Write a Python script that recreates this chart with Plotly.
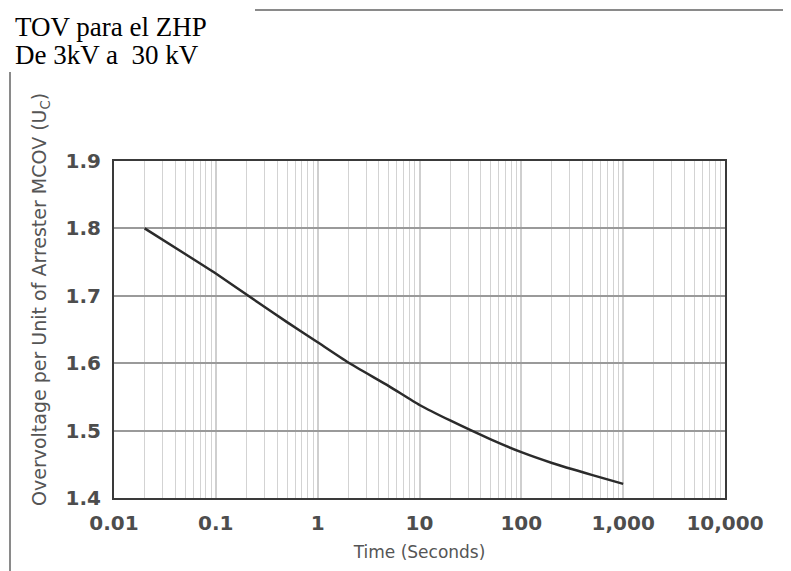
import plotly.graph_objects as go

# Data
time_s = [0.02, 0.05, 0.1, 0.26, 0.5, 1, 2, 5, 10, 20, 50, 100, 200, 500, 1000]
overvoltage_pu = [1.800, 1.762, 1.733, 1.690, 1.661, 1.631, 1.601, 1.566, 1.538,
                  1.515, 1.487, 1.468, 1.452, 1.434, 1.421]

x_tick_vals = [0.01, 0.1, 1, 10, 100, 1000, 10000]
x_tick_text = ["0.01", "0.1", "1", "10", "100", "1,000", "10,000"]
y_tick_vals = [1.4, 1.5, 1.6, 1.7, 1.8, 1.9]

title_lines = ["TOV para el ZHP", "De 3kV a  30 kV"]
x_title = "Time (Seconds)"
y_title = "Overvoltage per Unit of Arrester MCOV (U<sub>C</sub>)"

W, H = 791, 571
L, R, T, B = 106, 74, 153, 81
pw, ph = W - L - R, H - T - B


def px_x(p):
    return (p - L) / pw


def px_y(p):
    return (H - B - p) / ph


fig = go.Figure()
fig.add_trace(go.Scatter(
    x=time_s, y=overvoltage_pu, mode="lines",
    line=dict(color="#2b2b2b", width=2.5, shape="spline", smoothing=0.5),
    showlegend=False, hoverinfo="skip",
))

tick_font = dict(family="DejaVu Sans", size=20, color="#4d4d4d", weight="bold")

fig.update_layout(
    width=W, height=H,
    margin=dict(l=L, r=R, t=T, b=B),
    paper_bgcolor="white", plot_bgcolor="white",
    xaxis=dict(
        type="log", range=[-2, 4],
        tickvals=x_tick_vals, ticktext=x_tick_text,
        showgrid=True, gridcolor="#cfcfcf", gridwidth=1.5,
        minor=dict(dtick="D1", showgrid=True, gridcolor="#d3d3d3", gridwidth=1.3),
        showline=True, linecolor="#3a3a3a", linewidth=2, mirror=True,
        ticks="", tickfont=tick_font, ticklabelstandoff=6,
        title=dict(text=x_title, font=dict(family="DejaVu Sans", size=17, color="#555555"), standoff=12),
        zeroline=False,
    ),
    yaxis=dict(
        range=[1.4, 1.9], tickvals=y_tick_vals, tickformat=".1f",
        showgrid=True, gridcolor="#9a9a9a", gridwidth=1.5,
        showline=True, linecolor="#3a3a3a", linewidth=2, mirror=True,
        ticks="", tickfont=tick_font, ticklabelstandoff=7,
        zeroline=False,
    ),
)

# outer frame of the picture (top-left corner hidden behind the title box)
frame = dict(color="#8a8a8a", width=2)
fig.add_shape(type="line", xref="paper", yref="paper",
              x0=px_x(247), x1=px_x(786), y0=px_y(2), y1=px_y(2), line=frame)
fig.add_shape(type="line", xref="paper", yref="paper",
              x0=px_x(2), x1=px_x(2), y0=px_y(64), y1=px_y(575), line=frame)
fig.add_shape(type="line", xref="paper", yref="paper",
              x0=px_x(786), x1=px_x(786), y0=px_y(2), y1=px_y(575), line=frame)

# y-axis title (placed like the reference, shifted upward)
fig.add_annotation(
    xref="paper", yref="paper", x=px_x(32), y=px_y(292),
    xanchor="center", yanchor="middle", textangle=-90, showarrow=False,
    text=y_title, font=dict(family="DejaVu Sans", size=19, color="#555555"),
)

# two-line title at the top left
for i, line_txt in enumerate(title_lines):
    fig.add_annotation(
        xref="paper", yref="paper", x=px_x(5), y=px_y(19 + 28 * i),
        xanchor="left", yanchor="middle", align="left", showarrow=False,
        text=line_txt,
        font=dict(family="Liberation Serif", size=27, color="black"),
    )

fig.write_html("out.html")
